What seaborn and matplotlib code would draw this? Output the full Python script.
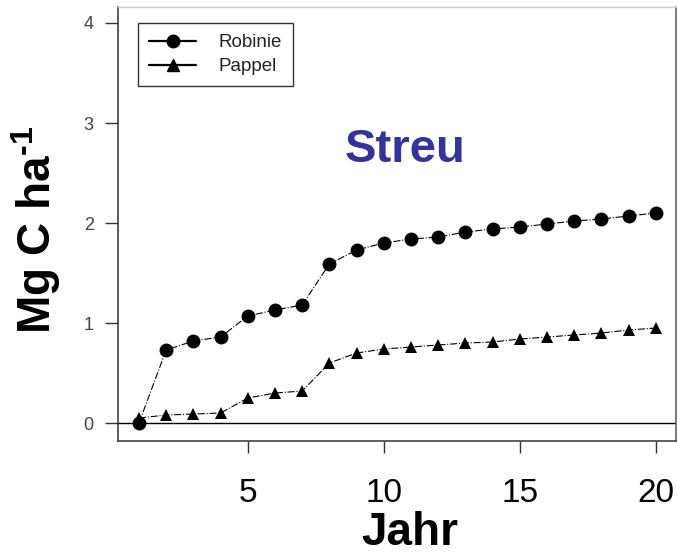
import numpy as np
import pandas as pd
import seaborn as sns
import matplotlib.pyplot as plt
from matplotlib.lines import Line2D

# Werte
jahr = list(range(1, 21))
robinie = [0.00, 0.73, 0.82, 0.86, 1.07, 1.13, 1.18, 1.59, 1.73, 1.80,
           1.84, 1.86, 1.91, 1.94, 1.96, 1.99, 2.02, 2.04, 2.07, 2.10]
pappel = [0.05, 0.08, 0.09, 0.10, 0.25, 0.30, 0.32, 0.60, 0.70, 0.74,
          0.76, 0.78, 0.80, 0.81, 0.84, 0.86, 0.88, 0.90, 0.93, 0.95]
x_ticks = [5, 10, 15, 20]
y_ticks = [0, 1, 2, 3, 4]

sns.set_style('white')
plt.rcParams['font.family'] = ['Liberation Sans', 'DejaVu Sans']
plt.rcParams['mathtext.fontset'] = 'custom'
plt.rcParams['mathtext.rm'] = 'Liberation Sans:bold'
plt.rcParams['mathtext.it'] = 'Liberation Sans:bold'
plt.rcParams['mathtext.bf'] = 'Liberation Sans:bold'
plt.rcParams['text.color'] = 'black'
plt.rcParams['axes.labelcolor'] = 'black'
plt.rcParams['xtick.color'] = 'black'

df = pd.DataFrame({'Jahr': jahr, 'Robinie': robinie, 'Pappel': pappel})

fig = plt.figure(figsize=(6.77, 5.55), dpi=100)
ax = fig.add_axes([0.1743, 0.2059, 0.8242, 0.7815])

ax.axhline(0, color='black', lw=1.0, zorder=1)

sns.lineplot(data=df, x='Jahr', y='Pappel', ax=ax, color='black', lw=0.8,
             linestyle='-.', marker='^', markersize=9, markeredgewidth=0,
             zorder=3)
sns.lineplot(data=df, x='Jahr', y='Robinie', ax=ax, color='black', lw=0.8,
             linestyle='-.', marker='o', markersize=10, markeredgewidth=0,
             zorder=4)

ax.set_xlim(0.23, 20.74)
ax.set_ylim(-0.177, 4.16)
ax.set_xticks(x_ticks)
ax.set_xticklabels([str(t) for t in x_ticks], fontsize=24, color='black')
ax.set_yticks(y_ticks)
ax.set_yticklabels([str(t) for t in y_ticks], fontsize=13, color='#444444')
ax.tick_params(axis='y', direction='out', length=9.5, width=1, color='#333333',
               pad=8, left=True)
ax.tick_params(axis='x', direction='out', length=8.5, width=1, color='#333333',
               pad=18, bottom=True)

for side in ['left', 'bottom']:
    ax.spines[side].set_color('#333333')
    ax.spines[side].set_linewidth(1.1)
ax.spines['right'].set_color('#555555')
ax.spines['right'].set_linewidth(1.1)
ax.spines['top'].set_color('#cccccc')
ax.spines['top'].set_linewidth(1.0)

ax.set_xlabel('Jahr', fontsize=33, fontweight='bold', color='black')
ax.xaxis.set_label_coords(0.523, -0.162)
ax.set_ylabel(r'Mg C ha$^{\text{-}1}$', fontsize=33, fontweight='bold',
              color='black')
ax.yaxis.set_label_coords(-0.098, 0.486)

ax.text(10.78, 2.61, 'Streu', fontsize=34, fontweight='bold', color='#333399',
        ha='center', va='baseline')

handles = [Line2D([], [], color='black', lw=1.6, marker='o', markersize=9),
           Line2D([], [], color='black', lw=1.6, marker='^', markersize=8)]
leg = ax.legend(handles, ['Robinie', 'Pappel'], loc='upper left',
                bbox_to_anchor=(0.036, 0.963), borderaxespad=0,
                fontsize=13.5, handlelength=2.5, handletextpad=1.2,
                labelspacing=0.35, borderpad=0.6, fancybox=False,
                frameon=True, edgecolor='black')
leg.get_frame().set_linewidth(1.0)
for t in leg.get_texts():
    t.set_color('#222222')

fig.savefig('out.png', dpi=100)
